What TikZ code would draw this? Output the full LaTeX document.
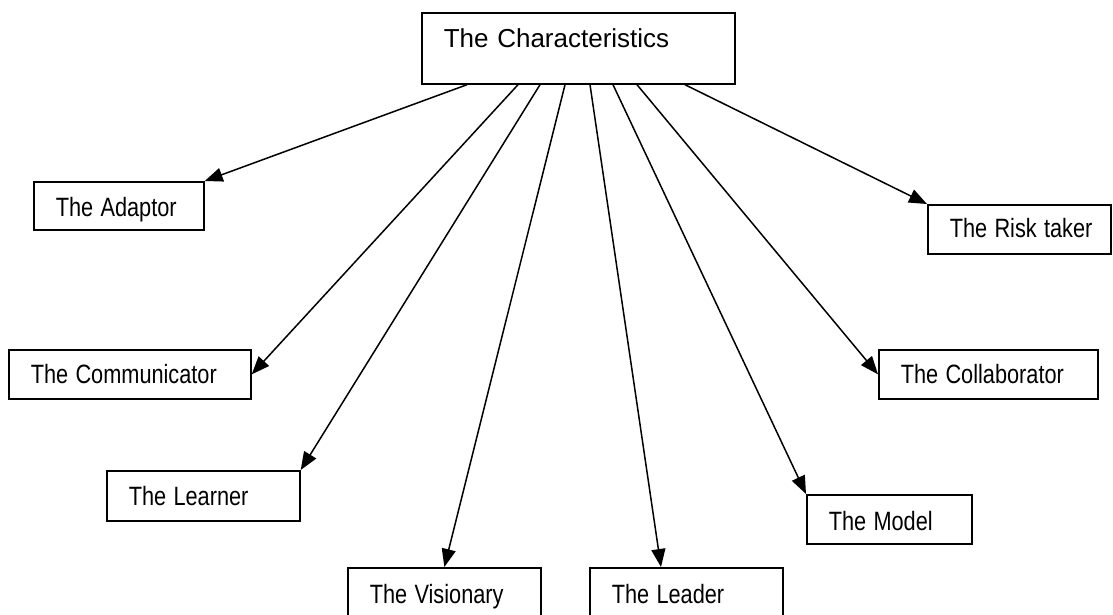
\documentclass[tikz,border=0pt]{standalone}
\usepackage{fontspec}
\usepackage{graphicx}
\setmainfont{Liberation Sans}
\usetikzlibrary{arrows.meta,calc}
\newcommand\smallfnt{\fontsize{26.5}{31}\selectfont}
\newcommand\bigfnt{\fontsize{26}{31}\selectfont}
\newcommand\lbl[1]{\scalebox{0.82}[1]{#1}}
\tikzset{
  box/.style={draw, line width=1.7pt, anchor=north west, inner xsep=22pt, inner ysep=0pt,
    align=left, text height=35pt, font=\smallfnt},
  link/.style={line width=1.5pt, -{Triangle[length=18pt,width=14pt]}}
}
\begin{document}
\begin{tikzpicture}[x=1pt,y=-1pt]
\useasboundingbox (0,0) rectangle (1113,614);
\node[box, text width=269pt, text depth=36pt, font=\bigfnt] (top) at (421,12) {The Characteristics};
\node[box, text width=126pt, text depth=13pt] (adaptor) at (33,181) {\lbl{The Adaptor}};
\node[box, text width=139pt, text height=33pt, text depth=16pt] (risk) at (927,204) {\lbl{The Risk taker}};
\node[box, text width=198pt, text height=34pt, text depth=15pt] (comm) at (8,349) {\lbl{The Communicator}};
\node[box, text width=175pt, text height=34pt, text depth=15pt] (collab) at (878,349) {\lbl{The Collaborator}};
\node[box, text width=149pt, text depth=15pt] (learner) at (106,470) {\lbl{The Learner}};
\node[box, text width=121pt, text height=36pt, text depth=13pt] (model) at (806,494) {\lbl{The Model}};
\node[box, text width=149pt, text height=36pt, text depth=13pt] (vision) at (347,567) {\lbl{The Visionary}};
\node[box, text width=149pt, text height=36pt, text depth=13pt] (leader) at (589,567) {\lbl{The Leader}};
\draw[link] ($(top.south west)+(46,0)$) -- (adaptor.north east);
\draw[link] ($(top.south west)+(97,0)$) -- (comm.east);
\draw[link] ($(top.south west)+(119,0)$) -- (learner.north east);
\draw[link] ($(top.south west)+(144,0)$) -- (vision.north);
\draw[link] ($(top.south west)+(169,0)$) -- ($(leader.north west)+(72,0)$);
\draw[link] ($(top.south west)+(192,0)$) -- (model.north west);
\draw[link] ($(top.south west)+(216,0)$) -- (collab.west);
\draw[link] ($(top.south west)+(264,0)$) -- (risk.north west);
\end{tikzpicture}
\end{document}
